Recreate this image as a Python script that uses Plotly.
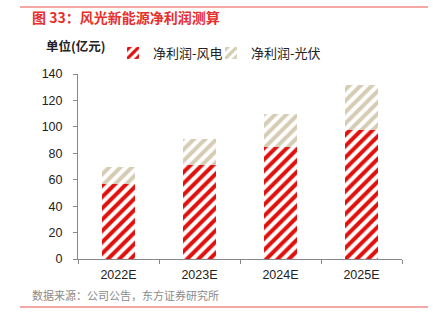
import plotly.graph_objects as go

categories = ["2022E", "2023E", "2024E", "2025E"]
wind_profit = [57, 71, 85, 98]
solar_profit = [13, 20, 25, 34]
y_ticks = [0, 20, 40, 60, 80, 100, 120, 140]

W, H = 433, 327
L, R, T, B = 78, 402, 74, 259


def px(x):
    return (x - L) / (R - L)


def py(y):
    return (B - y) / (B - T)


FONT = "Liberation Sans, Arial, Noto Sans CJK SC, sans-serif"
CJK = "Noto Sans CJK SC, sans-serif"
RED = "#e0100c"
BEIGE = "#d6ccb4"

fig = go.Figure()
fig.add_trace(go.Bar(
    x=categories, y=wind_profit, name="净利润-风电",
    marker=dict(color=RED, line=dict(width=0),
                pattern=dict(shape="/", fgcolor=RED, bgcolor="white", fillmode="replace",
                             fgopacity=1, size=8, solidity=0.5)),
    width=0.4, legend="legend",
))
fig.add_trace(go.Bar(
    x=categories, y=solar_profit, name="净利润-光伏",
    marker=dict(color=BEIGE, line=dict(width=0),
                pattern=dict(shape="/", fgcolor=BEIGE, bgcolor="white", fillmode="replace",
                             fgopacity=1, size=8, solidity=0.5)),
    width=0.4, legend="legend2",
))

legend_common = dict(orientation="h", yanchor="middle", xanchor="left",
                     font=dict(family=CJK, size=13, color="#222222"),
                     itemwidth=30, bgcolor="rgba(0,0,0,0)")

fig.update_layout(
    barmode="stack",
    width=W, height=H,
    margin=dict(l=L, r=W - R, t=T, b=H - B, pad=0),
    paper_bgcolor="white", plot_bgcolor="white",
    font=dict(family=FONT, size=12.5, color="#222222"),
    showlegend=True,
    legend=dict(x=px(113), y=py(53), **legend_common),
    legend2=dict(x=px(211), y=py(53), **legend_common),
    xaxis=dict(showline=True, linecolor="#888888", linewidth=1,
               ticks="outside", tickson="boundaries", ticklen=4, tickcolor="#888888",
               showgrid=False, tickfont=dict(family=FONT, size=12.5, color="#222222"),
               ticklabelstandoff=4),
    yaxis=dict(range=[0, 140], tickvals=y_ticks, showline=True, linecolor="#888888",
               linewidth=1, ticks="outside", ticklen=4, tickcolor="#888888",
               showgrid=False, zeroline=False,
               tickfont=dict(family=FONT, size=12.5, color="#222222"),
               ticklabelstandoff=8),
)

fig.add_annotation(text="<b>图 33：风光新能源净利润测算</b>", xref="paper", yref="paper",
                   x=px(30), y=py(17), xanchor="left", yanchor="middle", showarrow=False,
                   font=dict(family=CJK, size=14, color="#e5302b"))
fig.add_annotation(text="<b>单位(亿元)</b>", xref="paper", yref="paper",
                   x=px(44), y=py(45), xanchor="left", yanchor="middle", showarrow=False,
                   font=dict(family=CJK, size=12.5, color="#222222"))
fig.add_annotation(text="数据来源：公司公告，东方证券研究所", xref="paper", yref="paper",
                   x=px(30), y=py(295), xanchor="left", yanchor="middle", showarrow=False,
                   font=dict(family=CJK, size=11, color="#8a8a8a"))

for yy in (7, 307):
    fig.add_shape(type="line", xref="paper", yref="paper",
                  x0=px(20), x1=px(428), y0=py(yy), y1=py(yy),
                  line=dict(color="#f08a84", width=1.5))

fig.write_html("out.html")
